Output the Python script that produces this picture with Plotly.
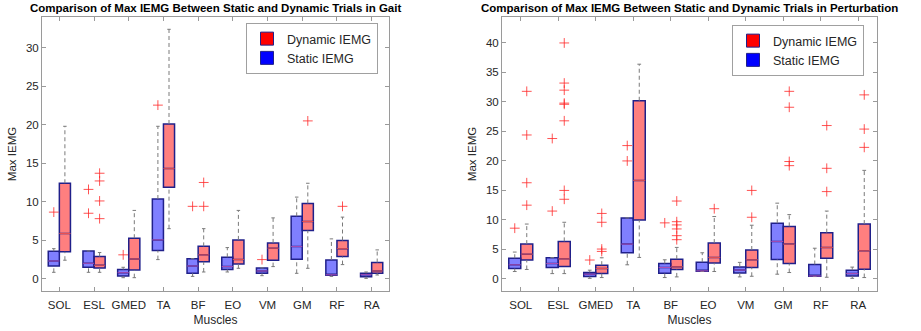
import numpy as np
import plotly.graph_objects as go

muscles = ["SOL", "ESL", "GMED", "TA", "BF", "EO", "VM", "GM", "RF", "RA"]

# ---- Gait ----
gait_static_lw = [0.83, 0.83, 0.13, 2.48, 0.30, 0.87, 0.39, 0.70, 0.30, 0.04]
gait_static_q1 = [1.65, 1.48, 0.35, 3.65, 0.70, 1.20, 0.70, 2.52, 0.45, 0.26]
gait_static_med = [2.30, 2.00, 0.78, 5.04, 1.65, 1.57, 1.00, 4.17, 0.50, 0.52]
gait_static_q3 = [3.56, 3.60, 1.20, 10.35, 2.60, 2.78, 1.39, 8.10, 2.43, 0.70]
gait_static_uw = [3.90, 3.60, 1.48, 19.8, 2.60, 4.04, 1.40, 10.6, 5.17, 0.87]
gait_static_out = [[8.65], [11.6, 8.5], [3.1], [22.55], [9.4], [], [2.48], [], [], []]

gait_dyn_lw = [2.40, 0.83, 0.13, 6.50, 0.87, 1.35, 1.57, 1.35, 1.83, 0.48]
gait_dyn_q1 = [3.50, 1.40, 1.13, 11.87, 2.20, 1.90, 2.40, 6.26, 2.87, 0.70]
gait_dyn_med = [5.87, 1.74, 2.56, 14.30, 3.10, 2.50, 3.96, 7.43, 3.90, 1.00]
gait_dyn_q3 = [12.4, 2.87, 5.26, 20.1, 4.20, 5.04, 4.65, 9.78, 4.96, 2.10]
gait_dyn_uw = [19.8, 3.40, 8.87, 32.4, 6.50, 8.87, 7.90, 12.4, 8.00, 3.74]
gait_dyn_out = [[], [13.7, 12.7, 10.1, 7.8], [], [], [12.5, 9.4], [], [], [20.5, 27.4], [9.4], []]

# ---- Perturbation ----
pert_static_lw = [1.25, 0.90, 0.10, 2.39, 0.23, 1.25, 0.34, 0.80, 0.40, 0.10]
pert_static_q1 = [1.76, 1.93, 0.40, 4.43, 0.97, 1.30, 1.00, 3.30, 0.45, 0.50]
pert_static_med = [2.39, 2.60, 0.80, 5.90, 1.93, 1.36, 1.50, 6.36, 0.50, 0.90]
pert_static_q3 = [3.50, 3.58, 1.10, 10.34, 2.60, 2.84, 2.00, 9.43, 2.44, 1.48]
pert_static_uw = [4.55, 3.60, 1.48, 10.34, 3.24, 4.43, 2.80, 12.84, 5.20, 2.00]
pert_static_out = [[8.6], [11.5, 23.8], [3.2], [20.0, 22.6], [9.5], [], [], [], [], []]

pert_dyn_lw = [1.60, 0.90, 0.23, 3.64, 0.34, 1.25, 0.45, 1.08, 0.28, 0.23]
pert_dyn_q1 = [3.20, 2.10, 0.90, 10.0, 1.60, 2.70, 1.93, 2.60, 3.50, 1.65]
pert_dyn_med = [4.20, 3.40, 1.76, 16.7, 2.05, 3.64, 3.24, 5.90, 5.34, 4.77]
pert_dyn_q3 = [5.90, 6.36, 2.33, 30.2, 3.35, 6.08, 4.90, 8.90, 7.84, 9.30]
pert_dyn_uw = [9.30, 9.60, 3.58, 36.4, 5.34, 10.57, 9.10, 10.9, 11.5, 18.4]
pert_dyn_out = [[16.3, 12.5, 31.8, 24.4], [15.0, 13.5, 40.0, 33.2, 32.0, 29.8, 29.6, 26.8],
                [11.1, 9.6, 5.06, 4.66], [], [13.2, 9.7, 9.15, 8.47, 7.33, 6.65], [11.9],
                [15.0, 10.45], [19.2, 19.9, 29.1, 31.8, 42.2], [18.75, 14.8, 26.0],
                [31.2, 25.4, 22.3]]

titles = ["Comparison of Max IEMG Between Static and Dynamic Trials in Gait",
          "Comparison of Max IEMG Between Static and Dynamic Trials in Perturbation"]

W, H = 921, 331
TEXT = "#262626"
AX = "#9a9a9a"
BOXW = 0.32
HALF = BOXW / 2
CAP = 0.05
FONT = "Liberation Sans, Arial, sans-serif"

pos = np.arange(1, len(muscles) + 1)

fig = go.Figure()


def add_group(xref, yref, centers, lw, q1, med, q3, uw, outs, fill, medcolor):
    wx, wy, cx, cy, mx, my = [], [], [], [], [], []
    for c, a, b, m, d, e in zip(centers, lw, q1, med, q3, uw):
        wx += [c, c, None, c, c, None]
        wy += [a, b, None, d, e, None]
        cx += [c - CAP, c + CAP, None, c - CAP, c + CAP, None]
        cy += [a, a, None, e, e, None]
        mx += [c - HALF, c + HALF, None]
        my += [m, m, None]
    fig.add_trace(go.Scatter(x=wx, y=wy, mode="lines", xaxis=xref, yaxis=yref,
                             line=dict(color="#7a7a7a", width=1, dash="4px,3px"),
                             showlegend=False, hoverinfo="skip"))
    fig.add_trace(go.Scatter(x=cx, y=cy, mode="lines", xaxis=xref, yaxis=yref,
                             line=dict(color="#7a7a7a", width=1),
                             showlegend=False, hoverinfo="skip"))
    fig.add_trace(go.Box(x=list(centers), q1=q1, median=med, q3=q3,
                         lowerfence=q1, upperfence=q3, width=BOXW,
                         xaxis=xref, yaxis=yref, fillcolor=fill,
                         line=dict(color="#20208a", width=1.5),
                         whiskerwidth=0, showlegend=False))
    fig.add_trace(go.Scatter(x=mx, y=my, mode="lines", xaxis=xref, yaxis=yref,
                             line=dict(color=medcolor, width=1),
                             showlegend=False, hoverinfo="skip"))
    ox, oy = [], []
    for c, vals in zip(centers, outs):
        for v in vals:
            ox.append(c)
            oy.append(v)
    fig.add_trace(go.Scatter(x=ox, y=oy, mode="markers", xaxis=xref, yaxis=yref,
                             marker=dict(symbol="cross-thin", size=7,
                                         line=dict(color="rgba(255,40,40,0.8)", width=1)),
                             showlegend=False, hoverinfo="skip"))


BLUE_FILL = "rgba(0,0,255,0.5)"
RED_FILL = "rgba(255,0,0,0.5)"

add_group("x", "y", pos - HALF, gait_static_lw, gait_static_q1, gait_static_med,
          gait_static_q3, gait_static_uw, gait_static_out, BLUE_FILL, "#b050b8")
add_group("x", "y", pos + HALF, gait_dyn_lw, gait_dyn_q1, gait_dyn_med,
          gait_dyn_q3, gait_dyn_uw, gait_dyn_out, RED_FILL, "#e85050")
add_group("x2", "y2", pos - HALF, pert_static_lw, pert_static_q1, pert_static_med,
          pert_static_q3, pert_static_uw, pert_static_out, BLUE_FILL, "#b050b8")
add_group("x2", "y2", pos + HALF, pert_dyn_lw, pert_dyn_q1, pert_dyn_med,
          pert_dyn_q3, pert_dyn_uw, pert_dyn_out, RED_FILL, "#e85050")

for xr, yr, lg in [("x", "y", "legend"), ("x2", "y2", "legend2")]:
    for name, col in [("Dynamic IEMG", "#ff0000"), ("Static IEMG", "#0000ff")]:
        fig.add_trace(go.Scatter(x=[None], y=[None], mode="markers", name=name,
                                 xaxis=xr, yaxis=yr, legend=lg,
                                 marker=dict(symbol="square", size=13, color=col,
                                             line=dict(color="#20208a", width=1))))

x_dom1 = [42 / W, 389 / W]
x_dom2 = [502 / W, 877 / W]
y_dom = [1 - 291 / H, 1 - 17 / H]

axis_common = dict(showline=True, mirror="ticks", linecolor=AX, linewidth=1,
                   ticks="inside", ticklen=4, tickcolor=AX, showgrid=False,
                   zeroline=False, tickfont=dict(family=FONT, size=11.5, color=TEXT))

legend_common = dict(xanchor="right", yanchor="top", bgcolor="white",
                     bordercolor="#a0a0a0", borderwidth=1,
                     font=dict(family=FONT, size=12.5, color=TEXT),
                     tracegroupgap=0, itemwidth=30)

fig.update_layout(
    width=W, height=H, margin=dict(l=0, r=0, t=0, b=0),
    paper_bgcolor="white", plot_bgcolor="white",
    font=dict(family=FONT, color=TEXT),
    xaxis=dict(domain=x_dom1, anchor="y", range=[0.5, 10.5], tickvals=pos, ticktext=muscles,
               ticklabelstandoff=3,
               title=dict(text="Muscles", font=dict(size=12, color=TEXT), standoff=5),
               **axis_common),
    yaxis=dict(domain=y_dom, anchor="x", range=[-1.6, 34], dtick=5,
               title=dict(text="Max IEMG", font=dict(size=11.5, color=TEXT), standoff=6),
               **axis_common),
    xaxis2=dict(domain=x_dom2, anchor="y2", range=[0.5, 10.5], tickvals=pos, ticktext=muscles,
                ticklabelstandoff=3,
                title=dict(text="Muscles", font=dict(size=12, color=TEXT), standoff=5),
                **axis_common),
    yaxis2=dict(domain=y_dom, anchor="x2", range=[-2.05, 44.4], dtick=5,
                title=dict(text="Max IEMG", font=dict(size=11.5, color=TEXT), standoff=6),
                **axis_common),
    legend=dict(x=378 / W, y=1 - 23 / H, **legend_common),
    legend2=dict(x=864 / W, y=1 - 25 / H, **legend_common),
    boxmode="overlay",
    showlegend=True,
)

for dom, t in zip([x_dom1, x_dom2], titles):
    fig.add_annotation(x=(dom[0] + dom[1]) / 2, y=1 - 8 / H, xref="paper", yref="paper",
                       text="<b>" + t + "</b>", showarrow=False, xanchor="center",
                       yanchor="middle", font=dict(family=FONT, size=11.5, color="#000000"))

fig.write_html("out.html", config={"displayModeBar": False},
               post_script="document.body.style.margin='0';")
